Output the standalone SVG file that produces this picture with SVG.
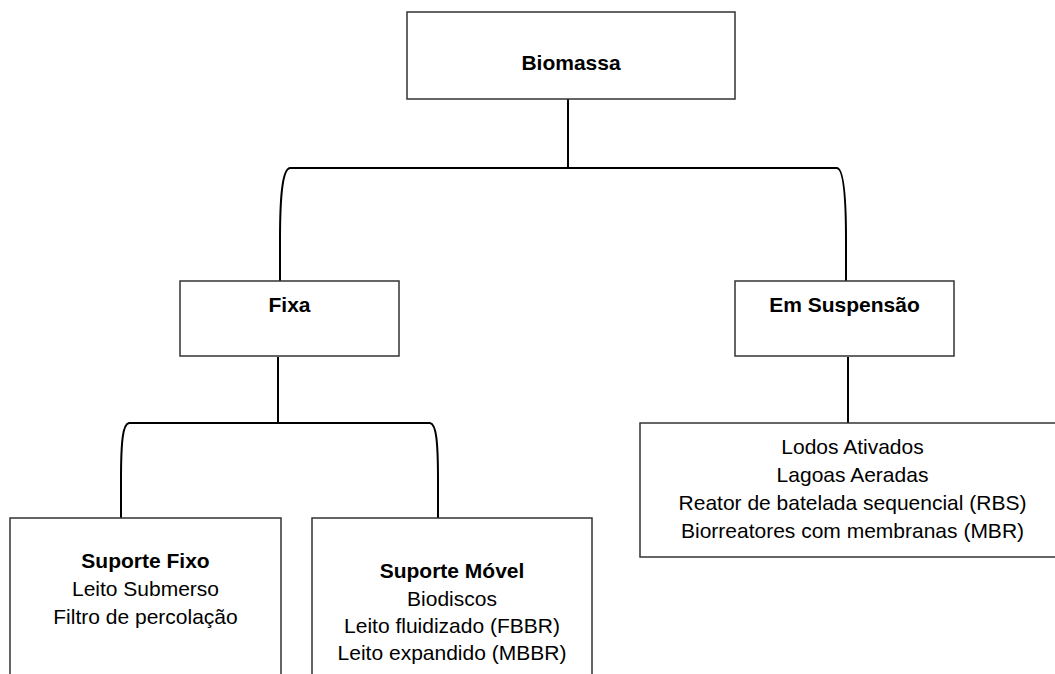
<svg xmlns="http://www.w3.org/2000/svg" width="1055" height="674" viewBox="0 0 1055 674">
<style>
.box{fill:#fff;stroke:#333;stroke-width:1.5}
.c{fill:none;stroke:#000;stroke-width:2}
text{font-family:"Liberation Sans",Arial,sans-serif;font-size:21px;fill:#000;text-anchor:middle}
.b{font-weight:bold}
</style>
<rect width="1055" height="674" fill="#fff"/>
<g id="connectors">
<path class="c" d="M568,99 V168"/>
<path class="c" d="M280,281 V240 C280,200 282,169 290,168 H837 C844,169 846,200 846,240 V281"/>
<path class="c" d="M278,357 V423"/>
<path class="c" d="M121,518 V480 C121,440 123,424 129,423 H430 C436,424 438,440 438,480 V518"/>
<path class="c" d="M848,357 V423"/>
</g>
<g id="biomassa">
<rect class="box" x="407" y="12" width="328" height="87"/>
<text class="b" x="571" y="70">Biomassa</text>
</g>
<g id="fixa">
<rect class="box" x="180" y="281" width="219" height="75"/>
<text class="b" x="289.5" y="312">Fixa</text>
</g>
<g id="suspensao">
<rect class="box" x="735" y="281" width="219" height="75"/>
<text class="b" x="844.5" y="312">Em Suspensão</text>
</g>
<g id="suporte-fixo">
<rect class="box" x="10" y="518" width="271" height="170"/>
<text class="b" x="145.5" y="568">Suporte Fixo</text>
<text x="145.5" y="596">Leito Submerso</text>
<text x="145.5" y="624">Filtro de percolação</text>
</g>
<g id="suporte-movel">
<rect class="box" x="312" y="518" width="280" height="170"/>
<text class="b" x="452" y="578">Suporte Móvel</text>
<text x="452" y="606">Biodiscos</text>
<text x="452" y="633">Leito fluidizado (FBBR)</text>
<text x="452" y="660">Leito expandido (MBBR)</text>
</g>
<g id="suspensao-lista">
<rect class="box" x="640" y="423" width="425" height="134"/>
<text x="852.5" y="454">Lodos Ativados</text>
<text x="852.5" y="482">Lagoas Aeradas</text>
<text x="852.5" y="510">Reator de batelada sequencial (RBS)</text>
<text x="852.5" y="538">Biorreatores com membranas (MBR)</text>
</g>
</svg>
